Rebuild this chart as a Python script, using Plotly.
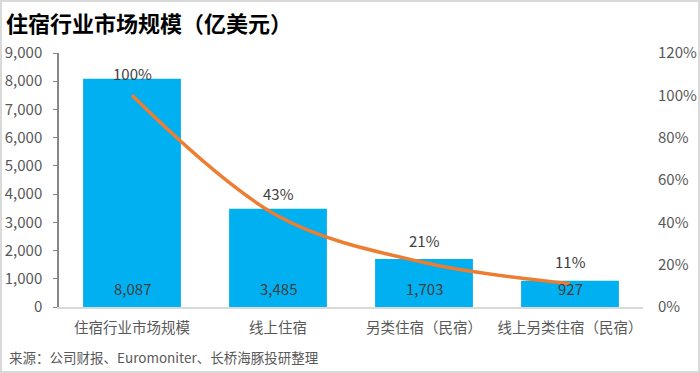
import plotly.graph_objects as go

categories = ["住宿行业市场规模", "线上住宿", "另类住宿（民宿）", "线上另类住宿（民宿）"]
market_size = [8087, 3485, 1703, 927]
share_pct = [100, 43, 21, 11]
left_ticks = list(range(0, 9001, 1000))
right_ticks = list(range(0, 121, 20))

FONT = "Noto Sans CJK SC"
W, H = 700, 373
ML, MR, MT, MB = 59, 57, 53, 66

fig = go.Figure()
fig.add_trace(go.Bar(
    x=categories, y=market_size,
    marker=dict(color="#00B0F0", line=dict(width=0)),
    width=0.67,
    yaxis="y", showlegend=False, hoverinfo="skip",
))
fig.add_trace(go.Scatter(
    x=categories, y=share_pct,
    mode="lines",
    line=dict(color="#ED7D31", width=3.5, shape="spline", smoothing=1.0),
    yaxis="y2", showlegend=False, hoverinfo="skip",
))

pw = W - ML - MR
ph = H - MT - MB
def px2x(p):
    return (p - ML) / pw
def py2y(p):
    return (H - MB - p) / ph

annotations = []
for c, v in zip(categories, market_size):
    annotations.append(dict(
        x=c, y=0, xref="x", yref="y", text=f"{v:,}", showarrow=False,
        yshift=19, yanchor="middle",
        font=dict(family=FONT, size=15, color="#404040"),
    ))
for c, p in zip(categories, share_pct):
    annotations.append(dict(
        x=c, y=p, xref="x", yref="y2", text=f"{p}%", showarrow=False,
        yshift=22, yanchor="middle",
        font=dict(family=FONT, size=15, color="#404040"),
    ))
annotations += [
    dict(text="<b>住宿行业市场规模（亿美元）</b>", xref="paper", yref="paper",
         x=px2x(4), y=py2y(22), xanchor="left", yanchor="middle",
         showarrow=False, font=dict(family=FONT, size=22, color="#000000")),
    dict(text="来源：公司财报、Euromoniter、长桥海豚投研整理", xref="paper", yref="paper",
         x=px2x(7), y=py2y(357), xanchor="left", yanchor="middle",
         showarrow=False, font=dict(family=FONT, size=13.5, color="#595959")),
]

fig.update_layout(
    width=W, height=H,
    margin=dict(l=ML, r=MR, t=MT, b=MB, autoexpand=False),
    paper_bgcolor="white", plot_bgcolor="white",
    font=dict(family=FONT, color="#595959", size=14),
    xaxis=dict(
        showline=True, linecolor="#D9D9D9", linewidth=1.5,
        ticks="", tickfont=dict(family=FONT, size=14.5, color="#595959"),
        showgrid=False, range=[-0.5, 3.5], automargin=False,
        ticklabelstandoff=7,
    ),
    yaxis=dict(
        range=[0, 9000], tickvals=left_ticks,
        ticktext=[f"{v:,}" for v in left_ticks],
        showline=True, linecolor="#868686", linewidth=1.5,
        ticks="outside", ticklen=4, tickcolor="#868686",
        showgrid=False, zeroline=False, automargin=False,
        ticklabelstandoff=8,
        tickfont=dict(family=FONT, size=15, color="#595959"),
    ),
    yaxis2=dict(
        range=[0, 120], tickvals=right_ticks,
        ticktext=[f"{v}%" for v in right_ticks],
        overlaying="y", side="right",
        showline=False, showgrid=False, zeroline=False,
        ticks="", ticklabelstandoff=14, automargin=False,
        tickfont=dict(family=FONT, size=15, color="#595959"),
    ),
    shapes=[dict(
        type="rect", xref="paper", yref="paper",
        x0=px2x(1), x1=px2x(699), y0=py2y(372), y1=py2y(1),
        line=dict(color="#D9D9D9", width=2), fillcolor="rgba(0,0,0,0)",
        layer="below",
    )],
    annotations=annotations,
)

fig.write_html("out.html", config={"displayModeBar": False},
               post_script="document.body.style.margin='0';")
